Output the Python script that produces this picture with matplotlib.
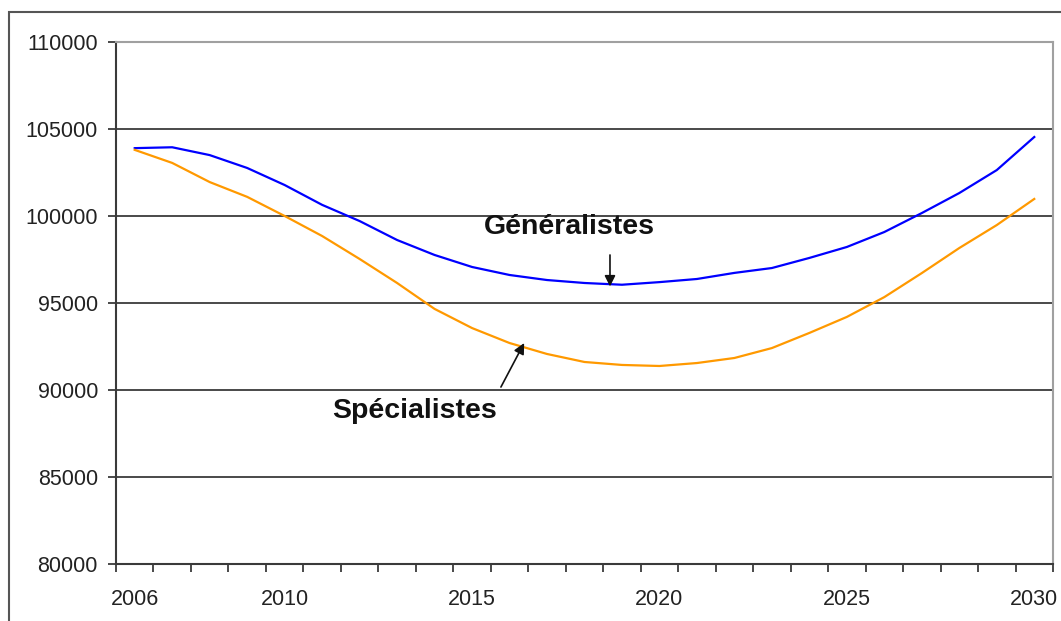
import matplotlib.pyplot as plt
from matplotlib.patches import Rectangle

# --- Data ---
years = list(range(2006, 2031))
generalistes = [103900, 103950, 103500, 102760, 101780, 100640, 99710, 98620, 97760,
                97070, 96610, 96320, 96150, 96050, 96200, 96380, 96730, 97010, 97590,
                98220, 99080, 100170, 101320, 102640, 104540]
specialistes = [103800, 103050, 101950, 101100, 100000, 98850, 97530, 96150, 94660,
                93560, 92700, 92070, 91610, 91440, 91380, 91550, 91840, 92410, 93280,
                94200, 95340, 96720, 98160, 99480, 100980]
tick_years = [2006, 2010, 2015, 2020, 2025, 2030]
y_ticks = [80000, 85000, 90000, 95000, 100000, 105000, 110000]

W, H = 1061, 621
BLUE = '#0000ff'
ORANGE = '#ff9900'
GRID = '#3a3a3a'
TEXT = '#222222'

plt.rcParams['font.family'] = ['Liberation Sans', 'DejaVu Sans']

fig = plt.figure(figsize=(W / 100, H / 100), dpi=100)

# Outer chart frame (only the left and top edges fall inside the image)
fig.add_artist(Rectangle((9 / W, -0.1), 1.2, (H - 12) / H + 0.1,
                         transform=fig.transFigure, fill=False,
                         edgecolor='#555555', linewidth=1.5))

ax = fig.add_axes([116 / W, (H - 564) / H, (1053 - 116) / W, (564 - 42) / H])

# Category axis: each year sits in the middle of its slot
x = [i + 0.5 for i in range(len(years))]
ax.plot(x, generalistes, color=BLUE, linewidth=1.6, zorder=3)
ax.plot(x, specialistes, color=ORANGE, linewidth=1.6, zorder=3)

ax.set_xlim(0, len(years))
ax.set_ylim(80000, 110000)

ax.set_yticks(y_ticks)
ax.set_yticklabels([str(v) for v in y_ticks], fontsize=15.5, color=TEXT)
for v in y_ticks[1:-1]:
    ax.axhline(v, color=GRID, linewidth=1.3, zorder=1)

ax.set_xticks(range(len(years) + 1))
ax.set_xticklabels([])
ax.tick_params(axis='x', direction='out', length=5.5, width=1.3, color=GRID)
ax.tick_params(axis='y', direction='out', length=6, width=1.3, color=GRID, pad=7)
for yr in tick_years:
    i = years.index(yr)
    ax.text(i + 0.5, 78550, str(yr), ha='center', va='top', fontsize=15.5,
            color=TEXT, clip_on=False)

for side in ['left', 'bottom']:
    ax.spines[side].set_color(GRID)
    ax.spines[side].set_linewidth(1.5)
for side in ['top', 'right']:
    ax.spines[side].set_color('#a0a0a0')
    ax.spines[side].set_linewidth(1.5)

# Series labels with arrows
arrow = dict(arrowstyle='-|>', color='#111111', lw=1.2,
             mutation_scale=16, shrinkA=0, shrinkB=0)
ax.annotate('', xy=(13.18, 95950), xytext=(13.18, 97760), arrowprops=arrow)
ax.text(12.1, 99370, 'Généralistes', ha='center', va='center',
        fontsize=20.5, fontweight='bold', color='#111111')

ax.annotate('', xy=(10.89, 92700), xytext=(10.27, 90170), arrowprops=arrow)
ax.text(7.96, 88790, 'Spécialistes', ha='center', va='center',
        fontsize=20.5, fontweight='bold', color='#111111')

fig.savefig('out.png', dpi=100)
